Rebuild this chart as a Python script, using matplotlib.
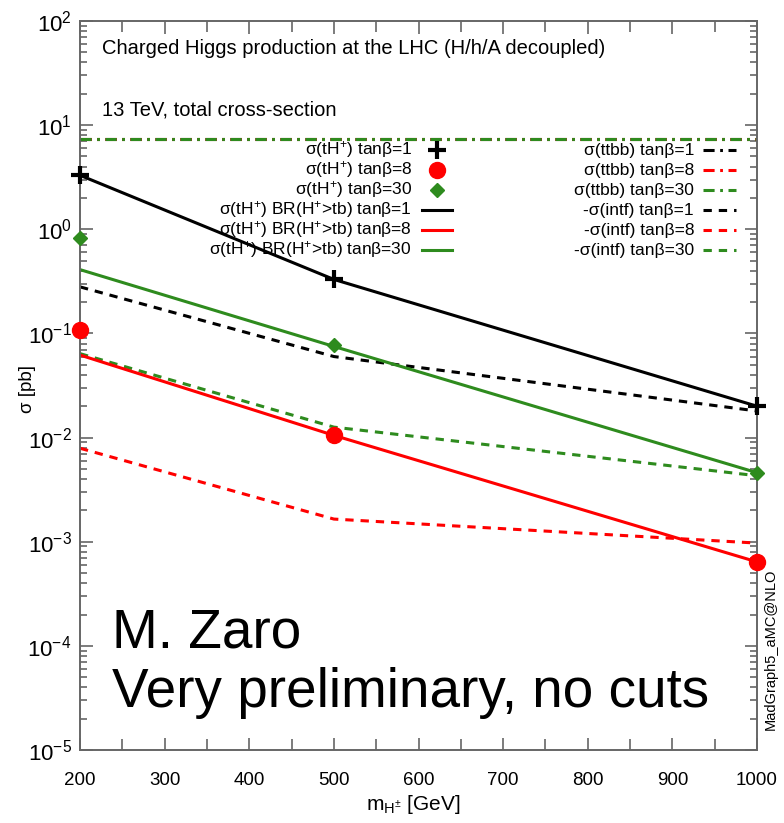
import math
import matplotlib
matplotlib.use("Agg")
import matplotlib.pyplot as plt
from matplotlib.lines import Line2D
from matplotlib.ticker import LogLocator, MultipleLocator, NullFormatter, FuncFormatter

plt.rcParams['font.family'] = ['Liberation Sans', 'DejaVu Sans']
plt.rcParams['mathtext.fontset'] = 'custom'
plt.rcParams['mathtext.rm'] = 'Liberation Sans'
plt.rcParams['mathtext.it'] = 'Liberation Sans:italic'
plt.rcParams['lines.scale_dashes'] = False

# charged Higgs mass points [GeV]
mass = [200, 500, 1000]

# sigma(tH+) for tan(beta) = 1, 8, 30  [pb]
sig_tH_tb1 = [3.3, 0.33, 0.020]
sig_tH_tb8 = [0.107, 0.0105, 0.00064]
sig_tH_tb30 = [0.82, 0.078, 0.0046]

# sigma(tH+) x BR(H+ -> tb)
sigbr_tb1 = [3.3, 0.33, 0.020]
sigbr_tb8 = [0.062, 0.0105, 0.00064]
sigbr_tb30 = [0.41, 0.075, 0.0046]

# sigma(ttbb)
sig_ttbb_tb1 = [7.3, 7.3, 7.3]
sig_ttbb_tb8 = [7.3, 7.3, 7.3]
sig_ttbb_tb30 = [7.3, 7.3, 7.3]

# -sigma(interference)
intf_tb1 = [0.28, 0.060, 0.018]
intf_tb8 = [0.0079, 0.00165, 0.00097]
intf_tb30 = [0.064, 0.0126, 0.0043]

BLACK = '#000000'
RED = '#ff0000'
GREEN = '#2e8b1e'
FRAME = '#666666'

DASH = (0, (6, 5))
DASHDOT = (0, (8, 4, 2, 4))
LW = 2.2

W, H = 784, 823
fig = plt.figure(figsize=(W / 100, H / 100), dpi=100)
ax = fig.add_axes([80 / W, 1 - 750 / H, (757 - 80) / W, (750 - 21) / H])

# ttbb (identical for all tan(beta); drawn black, red, green)
ax.plot(mass, sig_ttbb_tb1, color=BLACK, lw=LW, ls=DASHDOT)
ax.plot(mass, sig_ttbb_tb8, color=RED, lw=LW, ls=DASHDOT)
ax.plot(mass, sig_ttbb_tb30, color=GREEN, lw=LW, ls=DASHDOT)

# interference
ax.plot(mass, intf_tb1, color=BLACK, lw=LW, ls=DASH)
ax.plot(mass, intf_tb8, color=RED, lw=LW, ls=DASH)
ax.plot(mass, intf_tb30, color=GREEN, lw=LW, ls=DASH)

# sigma x BR
ax.plot(mass, sigbr_tb1, color=BLACK, lw=LW)
ax.plot(mass, sigbr_tb8, color=RED, lw=LW)
ax.plot(mass, sigbr_tb30, color=GREEN, lw=LW)

# sigma(tH+) points
ax.plot(mass, sig_tH_tb1, ls='none', marker='+', ms=13, mew=3, color=BLACK, clip_on=False, zorder=5)
ax.plot(mass, sig_tH_tb8, ls='none', marker='o', ms=11.5, color=RED, clip_on=False, zorder=5)
ax.plot(mass, sig_tH_tb30, ls='none', marker='D', ms=7, color=GREEN, clip_on=False, zorder=5)

ax.set_xlim(200, 1000)
ax.set_yscale('log')
ax.set_ylim(1e-5, 1e2)

ax.xaxis.set_major_locator(MultipleLocator(100))
ax.xaxis.set_minor_locator(MultipleLocator(50))
ax.yaxis.set_major_locator(LogLocator(base=10, numticks=20))
ax.yaxis.set_minor_locator(LogLocator(base=10, subs=range(2, 10), numticks=20))
ax.yaxis.set_minor_formatter(NullFormatter())
ax.yaxis.set_major_formatter(FuncFormatter(lambda v, p: r'$10^{%d}$' % round(math.log10(v))))

ax.tick_params(which='both', direction='in', top=True, right=True, color=FRAME, width=1.2)
ax.tick_params(which='major', length=9)
ax.tick_params(which='minor', length=5)
ax.tick_params(axis='x', which='minor', length=8)
ax.tick_params(axis='x', which='major', labelsize=13.5, pad=16)
ax.tick_params(axis='y', which='major', labelsize=16, pad=6)
for s in ax.spines.values():
    s.set_color(FRAME)
    s.set_linewidth(1.4)

# the axis titles are placed as figure text below
ax.xaxis.label.set_visible(False)
ax.yaxis.label.set_visible(False)
ax.xaxis.get_offset_text().set_visible(False)
ax.yaxis.get_offset_text().set_visible(False)

fig.text(413 / W, 1 - 805 / H, r'm$_{\mathregular{H}^{\pm}}$ [GeV]', fontsize=15,
         ha='center', va='center')
fig.text(28 / W, 1 - 389 / H, 'σ [pb]', fontsize=13.5, rotation=90,
         ha='center', va='center')

# header text
fig.text(102 / W, 1 - 48 / H, 'Charged Higgs production at the LHC (H/h/A decoupled)',
         fontsize=14.5, va='center', ha='left')
fig.text(102 / W, 1 - 110 / H, '13 TeV, total cross-section',
         fontsize=14.5, va='center', ha='left')

# legend, drawn as right-aligned text with a sample after it
left_col = [
    (r'σ(tH$^{+}$) tanβ=1', dict(marker='+', ms=13, mew=3, color=BLACK, ls='none')),
    (r'σ(tH$^{+}$) tanβ=8', dict(marker='o', ms=11.5, color=RED, ls='none')),
    (r'σ(tH$^{+}$) tanβ=30', dict(marker='D', ms=7, color=GREEN, ls='none')),
    (r'σ(tH$^{+}$) BR(H$^{+}$>tb) tanβ=1', dict(color=BLACK, lw=LW)),
    (r'σ(tH$^{+}$) BR(H$^{+}$>tb) tanβ=8', dict(color=RED, lw=LW)),
    (r'σ(tH$^{+}$) BR(H$^{+}$>tb) tanβ=30', dict(color=GREEN, lw=LW)),
]
right_col = [
    ('σ(ttbb) tanβ=1', dict(color=BLACK, lw=LW, ls=DASHDOT)),
    ('σ(ttbb) tanβ=8', dict(color=RED, lw=LW, ls=DASHDOT)),
    ('σ(ttbb) tanβ=30', dict(color=GREEN, lw=LW, ls=DASHDOT)),
    ('-σ(intf) tanβ=1', dict(color=BLACK, lw=LW, ls=DASH)),
    ('-σ(intf) tanβ=8', dict(color=RED, lw=LW, ls=DASH)),
    ('-σ(intf) tanβ=30', dict(color=GREEN, lw=LW, ls=DASH)),
]
row_y = [150, 170, 190, 210, 230, 250]
for col, text_x, s0, s1 in [(left_col, 412, 422, 452), (right_col, 694, 703, 736)]:
    for (label, style), y in zip(col, row_y):
        fy = 1 - y / H
        fig.text(text_x / W, fy, label, fontsize=12.5, ha='right', va='center')
        if style.get('ls') == 'none':
            xm = (s0 + s1) / 2 / W
            fig.add_artist(Line2D([xm], [fy], transform=fig.transFigure, **style))
        else:
            fig.add_artist(Line2D([s0 / W, s1 / W], [fy, fy], transform=fig.transFigure, **style))

# annotations
fig.text(112 / W, 1 - 647 / H, 'M. Zaro', fontsize=39.5, ha='left', va='baseline')
fig.text(112 / W, 1 - 707 / H, 'Very preliminary, no cuts', fontsize=39.5, ha='left', va='baseline')
fig.text(771 / W, 1 - 730 / H, 'MadGraph5_aMC@NLO', fontsize=10.5, rotation=90,
         ha='center', va='bottom')

fig.savefig('out.png', dpi=100)
